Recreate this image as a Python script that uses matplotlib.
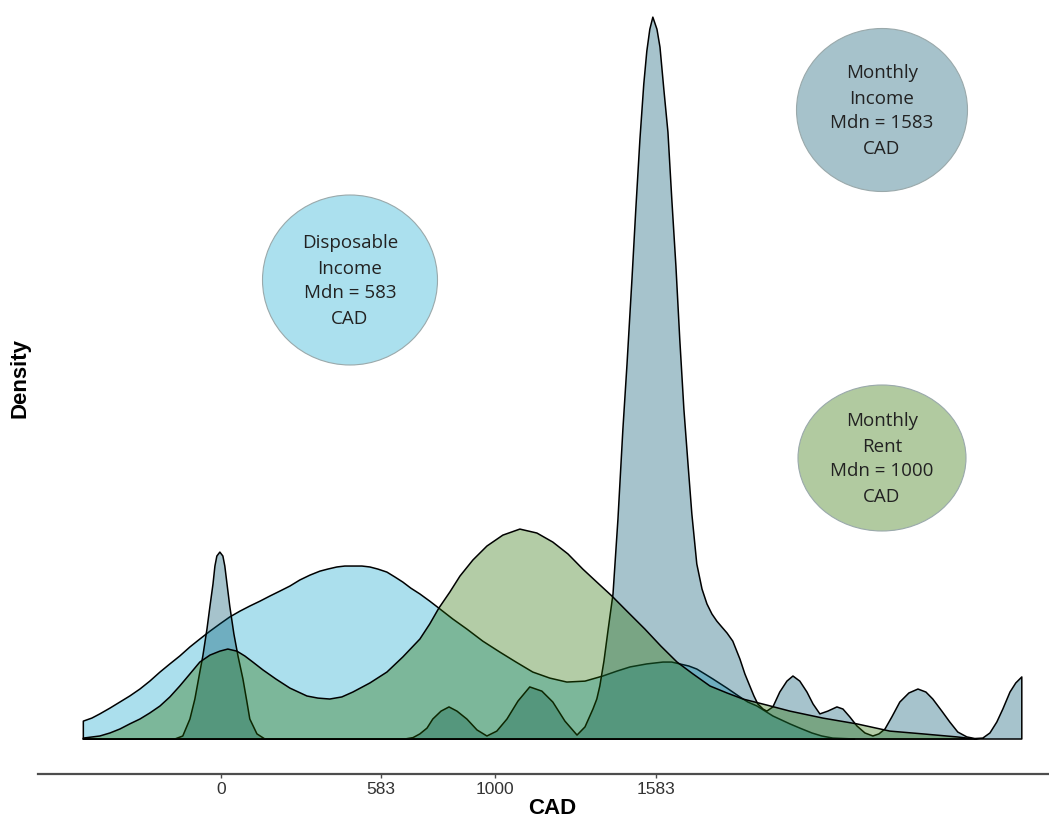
import matplotlib
matplotlib.use('Agg')
import matplotlib.pyplot as plt
from matplotlib.patches import Ellipse

# densities (CAD on x, density x 1e-5 on y)
disp_cad = [-500, -469, -440, -403, -367, -331, -294, -258, -221, -185, -149, -112, -76, -39, -3,
            33, 70, 106, 143, 179, 215, 252, 288, 325, 361, 390, 423, 452, 481, 514, 543, 572, 605,
            634, 663, 692, 725, 761, 794, 845, 896, 954, 1016, 1075, 1136, 1198, 1260, 1326, 1391,
            1442, 1490, 1551, 1610, 1642, 1671, 1704, 1733, 1762, 1792, 1843, 1890, 1919, 1952,
            2010, 2072, 2108, 2152, 2188, 2228, 2308]
disp_dens = [7.7, 9.0, 10.8, 13.3, 15.9, 18.5, 21.5, 24.9, 28.8, 32.3, 35.7, 39.6, 43.0, 46.4, 49.5,
             52.5, 55.0, 57.2, 59.3, 61.5, 63.6, 65.8, 68.4, 70.5, 72.2, 73.1, 74.0, 74.4, 74.4, 74.4, 74.0, 73.1, 71.8,
             69.7, 67.5, 64.9, 62.4, 59.3, 56.3, 51.6, 47.3, 42.1, 37.4, 33.1, 28.8, 26.2, 24.5, 24.9, 27.1,
             29.2, 31.0, 32.3, 33.1, 33.1, 32.3, 31.4, 30.1, 28.0, 25.8, 21.9, 18.1, 15.9, 14.2,
             9.9, 6.5, 4.7, 2.6, 1.3, 0.4, 0.0]

income_cad = [-500, -221, -167, -138, -112, -94, -76, -65, -50, -39, -28, -21, -14, -3, 8, 15, 23, 33,
              48, 63, 81, 95, 106, 132, 161, 215,
              670, 700, 725, 751, 772, 802, 831, 860, 896, 933, 969, 1005, 1042, 1082, 1125, 1169,
              1209, 1253, 1297,
              1326, 1355, 1369, 1380, 1395, 1409, 1428, 1446, 1464, 1479, 1497, 1511, 1526, 1540,
              1551, 1562, 1573, 1588, 1599, 1613, 1628, 1642, 1657, 1671, 1686, 1701, 1715, 1733,
              1752, 1770, 1788, 1806, 1824, 1843, 1864, 1890, 1908, 1926, 1941, 1955, 1974, 1988,
              2010, 2035, 2061, 2083, 2108, 2134, 2156, 2181, 2210, 2243, 2265, 2290, 2316, 2345,
              2374, 2396, 2418, 2443, 2472, 2505, 2538, 2567, 2592, 2625, 2654, 2683, 2716, 2745,
              2774, 2800, 2825, 2847, 2873, 2894, 2916]
income_dens = [0, 0, 0, 1.3, 8.6, 17.2, 28.8, 35.7, 47.3, 57.2, 66.7, 74.4, 78.7, 80.4, 78.7, 74.4, 66.7, 57.2,
               45.2, 35.7, 25.8, 16.3, 8.6, 2.2, 0, 0,
               0, 0.6, 2.2, 4.7, 8.6, 12.0, 13.8, 12.0, 8.6, 3.9, 1.3, 3.4, 8.6, 16.3, 22.4, 20.6,
               15.9, 7.7, 1.7,
               5.2, 12.9, 17.2, 22.8, 33.5, 46.0, 62.4, 94.6, 133.3, 161.3, 197.8, 227.9, 258.0, 281.7,
               295.8, 305.3, 310.5, 305.3, 297.6, 279.5, 261.0, 232.2, 203.4, 172.0, 141.9, 118.3, 96.8, 75.3,
               64.5, 58.1, 53.8, 50.7, 48.2, 45.6, 42.1, 34.4, 28.0, 22.8, 18.5, 15.1, 12.9, 12.0,
               13.8, 20.2, 24.9, 27.1, 24.9, 20.2, 15.1, 10.8, 12.0, 13.8, 12.9, 9.5, 5.6, 2.6,
               1.3, 2.2, 4.3, 9.5, 15.9, 19.8, 21.5, 20.2, 17.2, 12.0, 7.3, 3.0, 0.9, 0.2,
               0.4, 2.6, 7.3, 12.9, 20.2, 24.1, 26.7]

rent_cad = [-500, -440, -403, -367, -331, -294, -258, -221, -185, -149, -112, -76, -39, -3, 26,
            59, 88, 117, 154, 201, 252, 314, 354, 397, 441, 481, 543, 605, 663, 725, 761, 794, 834,
            871, 918, 969, 1027, 1089, 1151, 1209, 1264, 1318, 1369, 1424, 1482, 1544, 1602, 1661,
            1719, 1781, 1843, 1901, 1988, 2072, 2192, 2316, 2436, 2556, 2680, 2745]
rent_dens = [0.4, 1.3, 2.6, 4.3, 6.5, 8.6, 11.2, 14.2, 18.1, 22.8, 28.0, 33.1, 36.1, 37.8, 38.7,
             37.8, 35.7, 33.1, 29.7, 25.8, 21.9, 18.5, 17.6, 17.2, 18.1, 20.2, 24.1, 28.8, 35.3, 43.0, 49.5, 56.3, 63.2,
             70.1, 77.0, 83.0, 87.7, 90.3, 88.6, 84.7, 79.6, 73.1, 67.5, 61.5, 54.6, 47.3, 40.0, 33.1,
             28.0, 22.8, 19.8, 17.2, 14.6, 12.0, 9.0, 6.5, 3.4, 2.2, 0.9, 0.0]

tick_vals = [0, 583, 1000, 1583]

labels = ['Disposable\nIncome\nMdn = 583\nCAD',
          'Monthly\nIncome\nMdn = 1583\nCAD',
          'Monthly\nRent\nMdn = 1000\nCAD']

fig = plt.figure(figsize=(10.49, 8.2), dpi=100)
ax = fig.add_axes([38/1049, 45/820, 1011/1049, 765/820])

def dens_area(x, y, col):
    # closed polygon: curve + baseline, alpha only on the fill
    xs = [x[0]] + list(x) + [x[-1]]
    ys = [0] + list(y) + [0]
    rgba = tuple(c/255 for c in col) + (0.35,)
    ax.fill(xs, ys, facecolor=rgba, edgecolor='black', linewidth=1.1, joinstyle='round')

dens_area(disp_cad, disp_dens, (15, 166, 206))
dens_area(income_cad, income_dens, (1, 84, 109))
dens_area(rent_cad, rent_dens, (38, 109, 0))

ax.set_xlim(-665, 3015)
ax.set_ylim(-15.05, 314.0)
for s in ['left', 'right', 'top']:
    ax.spines[s].set_visible(False)
ax.spines['bottom'].set_color('#4d4d4d')
ax.spines['bottom'].set_linewidth(1.6)
ax.set_yticks([])
ax.set_xticks(tick_vals)
ax.set_xticklabels([str(v) for v in tick_vals], fontfamily='Liberation Sans', fontsize=12.5, color='#333333')
ax.tick_params(axis='x', length=3, width=1, color='#4d4d4d', pad=2)

fig.text(20/1049, 1 - 378/820, 'Density', rotation=90, ha='center', va='center',
         fontsize=16, fontweight='bold', fontfamily='Liberation Sans')
fig.text(552/1049, 1 - 809/820, 'CAD', ha='center', va='center',
         fontsize=16, fontweight='bold', fontfamily='Liberation Sans')

# median bubbles
bubbles = [((350, 281), 175, 170, '#abe0ee'),
           ((882, 111), 171, 163, '#a6c2cb'),
           ((882, 459), 168, 146, '#b1caa0')]
for (cx, cy), w, h, col in bubbles:
    fig.add_artist(Ellipse((cx/1049, 1 - cy/820), w/1049, h/820, transform=fig.transFigure,
                           facecolor=col, edgecolor='#9aa9ab', linewidth=0.8))
for ((cx, cy), w, h, col), txt in zip(bubbles, labels):
    fig.text(cx/1049, 1 - cy/820, txt, ha='center', va='center', fontsize=13.5,
             fontfamily='Open Sans', color='#222222', linespacing=1.5)

plt.savefig('out.png', dpi=100)
